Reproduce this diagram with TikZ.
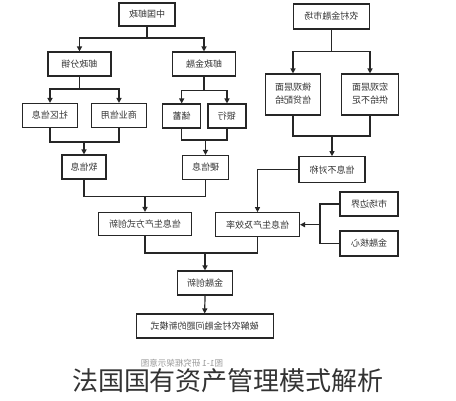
\documentclass[tikz,border=0pt]{standalone}
\usepackage{fontspec}
\newfontfamily\cjk{Noto Sans CJK SC}
\usetikzlibrary{arrows.meta}
\begin{document}
\begin{tikzpicture}[x=1pt,y=-1pt,
  box/.style={draw=black!85,line width=1.1pt,inner sep=0pt,text=black!80,
    font=\cjk\fontsize{9}{12.5}\selectfont},
  ln/.style={draw=black!85,line width=1.2pt},
  arr/.style={ln,-{Triangle[length=5pt,width=5pt]}}]
\useasboundingbox[fill=white] (0,0) rectangle (456,400);
% left tree
\node[box,minimum width=56pt,minimum height=23pt] (zg) at (147,14.5) {\reflectbox{中国邮政}};
\node[box,minimum width=63pt,minimum height=24pt] (ft) at (79.5,64) {\reflectbox{邮政分销}};
\node[box,minimum width=63pt,minimum height=24pt] (jr) at (204,64) {\reflectbox{邮政金融}};
\node[box,minimum width=55pt,minimum height=24pt] (sq) at (50,115.5) {\reflectbox{社区信息}};
\node[box,minimum width=55pt,minimum height=24pt] (sy) at (119,115.5) {\reflectbox{商业信用}};
\node[box,minimum width=38pt,minimum height=24pt] (cx) at (181.7,116) {\reflectbox{储蓄}};
\node[box,minimum width=38pt,minimum height=24pt] (yh) at (227,116) {\reflectbox{银行}};
\node[box,minimum width=44pt,minimum height=24pt] (rx) at (84,167) {\reflectbox{软信息}};
\node[box,minimum width=46pt,minimum height=24pt] (yx) at (205.5,167.5) {\reflectbox{硬信息}};
\node[box,minimum width=93pt,minimum height=23pt] (fs) at (145,224) {\reflectbox{信息生产方式创新}};
% right tree
\node[box,minimum width=76pt,minimum height=25pt] (nc) at (331.3,16.5) {\reflectbox{农村金融市场}};
\node[box,minimum width=55pt,minimum height=41pt] (wg) at (293,94.5) {\reflectbox{\begin{tabular}{@{}c@{}}微观层面\\信贷配给\end{tabular}}};
\node[box,minimum width=57pt,minimum height=41pt] (hg) at (370,94.5) {\reflectbox{\begin{tabular}{@{}c@{}}宏观层面\\供给不足\end{tabular}}};
\node[box,minimum width=66pt,minimum height=26pt] (bd) at (332,169.7) {\reflectbox{信息不对称}};
\node[box,minimum width=84pt,minimum height=24pt] (xl) at (257.5,224.7) {\reflectbox{信息生产及效率}};
\node[box,minimum width=58pt,minimum height=24pt] (sc) at (369,204) {\reflectbox{市场边界}};
\node[box,minimum width=58pt,minimum height=25pt] (hx) at (369,243.5) {\reflectbox{金融核心}};
\node[box,minimum width=55pt,minimum height=24pt] (cxn) at (205,283) {\reflectbox{金融创新}};
\node[box,minimum width=137pt,minimum height=24pt] (xm) at (204.7,326) {\reflectbox{破解农村金融问题的新模式}};
% junctions
\coordinate (j1) at (147,38);
\coordinate (j2) at (79.5,89);
\coordinate (j3) at (204,90.7);
\coordinate (j4) at (84,142);
\coordinate (j5) at (205.5,140);
\coordinate (j6) at (145,196.5);
\coordinate (j7) at (331.3,51.7);
\coordinate (j8) at (332,136);
\coordinate (j9) at (320,224.7);
\coordinate (j10) at (205,253);
% connectors
\draw[ln] (zg.south) -- (j1);
\draw[arr] (j1) -| (ft.north);
\draw[arr] (j1) -| (jr.north);
\draw[ln] (ft.south) -- (j2);
\draw[arr] (j2) -| (sq.north);
\draw[arr] (j2) -| (sy.north);
\draw[ln] (jr.south) -- (j3);
\draw[arr] (j3) -| (cx.north);
\draw[arr] (j3) -| (yh.north);
\draw[ln] (sq.south) |- (j4) -| (sy.south);
\draw[arr] (j4) -- (rx.north);
\draw[ln] (cx.south) |- (j5) -| (yh.south);
\draw[arr] (j5) -- (yx.north);
\draw[ln] (rx.south) |- (j6) -| (yx.south);
\draw[arr] (j6) -- (fs.north);
\draw[ln] (nc.south) -- (j7);
\draw[arr] (j7) -| (wg.north);
\draw[arr] (j7) -| (hg.north);
\draw[ln] (wg.south) |- (j8) -| (hg.south);
\draw[arr] (j8) -- (bd.north);
\draw[arr] (bd.west) -| (xl.north);
\draw[ln] (sc.west) -| (j9) |- (hx.west);
\draw[arr] (j9) -- (xl.east);
\draw[ln] (fs.south) |- (j10) -| (xl.south);
\draw[arr] (j10) -- (cxn.north);
\draw[arr] (cxn.south) -- (xm.north);
% captions
\node[font=\cjk\fontsize{8.5}{10}\selectfont,text=black!40] (cap) at (182,363) {\reflectbox{图1-1 研究框架示意图}};
\node[font=\cjk\fontsize{26}{30}\selectfont,text=black!80] (title) at (228,381) {法国国有资产管理模式解析};
\end{tikzpicture}
\end{document}
